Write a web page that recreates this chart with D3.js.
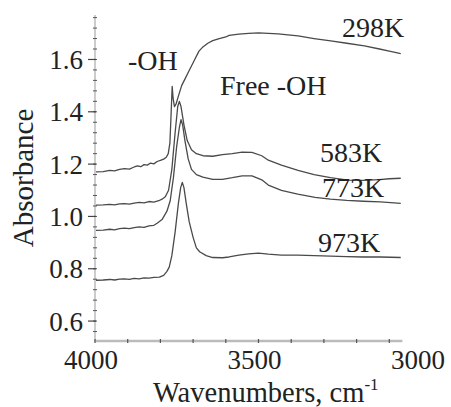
<!DOCTYPE html>
<html><head><meta charset="utf-8">
<script src="https://cdn.jsdelivr.net/npm/d3@7"></script>
<style>
html,body{margin:0;padding:0;background:#fff;}
svg{display:block;}
</style></head>
<body>
<svg id="c" width="451" height="407"></svg>
<script>
// ---- data (wavenumber cm^-1, absorbance) ----
const s298 = [[3997,1.170],[3975,1.171],[3955,1.176],[3940,1.174],[3925,1.180],[3910,1.183],[3895,1.181],[3880,1.189],[3870,1.193],[3860,1.190],[3850,1.198],[3840,1.196],[3830,1.204],[3820,1.201],[3810,1.210],[3800,1.214],[3790,1.219],[3782,1.226],[3776,1.240],[3771,1.280],[3767,1.400],[3764,1.497],[3761,1.450],[3757,1.420],[3752,1.430],[3745,1.460],[3735,1.500],[3725,1.525],[3715,1.550],[3705,1.575],[3695,1.600],[3682,1.632],[3670,1.648],[3655,1.662],[3640,1.672],[3620,1.680],[3600,1.686],[3590,1.692],[3560,1.697],[3530,1.700],[3500,1.702],[3470,1.700],[3440,1.698],[3410,1.694],[3379,1.690],[3330,1.680],[3279,1.671],[3230,1.662],[3176,1.652],[3130,1.640],[3100,1.632],[3065,1.622]];
const s583 = [[3997,1.043],[3975,1.044],[3955,1.046],[3940,1.044],[3925,1.048],[3910,1.049],[3895,1.047],[3880,1.051],[3865,1.054],[3850,1.052],[3835,1.057],[3820,1.055],[3805,1.060],[3795,1.066],[3785,1.075],[3775,1.100],[3765,1.180],[3755,1.320],[3747,1.420],[3742,1.440],[3737,1.420],[3728,1.350],[3718,1.290],[3705,1.255],[3690,1.240],[3670,1.232],[3640,1.230],[3610,1.236],[3580,1.240],[3550,1.246],[3520,1.245],[3490,1.232],[3470,1.215],[3430,1.196],[3379,1.176],[3330,1.160],[3280,1.148],[3227,1.139],[3180,1.138],[3130,1.141],[3100,1.144],[3065,1.146]];
const s773 = [[3997,0.947],[3975,0.948],[3955,0.951],[3940,0.949],[3925,0.953],[3910,0.955],[3895,0.953],[3880,0.957],[3865,0.960],[3850,0.958],[3835,0.964],[3820,0.966],[3810,0.974],[3795,0.988],[3780,1.020],[3770,1.060],[3760,1.150],[3750,1.270],[3742,1.340],[3737,1.370],[3732,1.350],[3725,1.290],[3715,1.220],[3705,1.180],[3690,1.160],[3670,1.150],[3640,1.142],[3610,1.142],[3580,1.148],[3550,1.155],[3520,1.155],[3490,1.140],[3470,1.120],[3430,1.100],[3380,1.085],[3327,1.073],[3280,1.066],[3230,1.061],[3180,1.058],[3127,1.056],[3065,1.050]];
const s973 = [[3997,0.756],[3975,0.757],[3955,0.759],[3940,0.757],[3925,0.760],[3910,0.761],[3895,0.759],[3880,0.763],[3865,0.761],[3850,0.765],[3835,0.764],[3820,0.767],[3803,0.768],[3790,0.775],[3780,0.790],[3773,0.806],[3765,0.850],[3755,0.940],[3745,1.050],[3738,1.110],[3733,1.130],[3728,1.110],[3721,1.050],[3712,0.980],[3700,0.920],[3690,0.880],[3680,0.865],[3660,0.850],[3640,0.843],[3610,0.842],[3590,0.845],[3560,0.852],[3530,0.857],[3500,0.860],[3470,0.856],[3430,0.852],[3380,0.852],[3330,0.850],[3280,0.848],[3230,0.846],[3180,0.845],[3127,0.845],[3065,0.843]];
const series = [s298, s583, s773, s973];
const seriesLabels = ["298K","583K","773K","973K"];
const xTickLabels = [4000, 3500, 3000];
const yTickLabels = [0.6, 0.8, 1.0, 1.2, 1.4, 1.6];
const xTitle = "Wavenumbers, cm";
const xTitleSup = "-1";
const yTitle = "Absorbance";
const notes = ["-OH", "Free -OH"];

const FONT = "'Liberation Serif', 'Tinos', 'Nimbus Roman', 'DejaVu Serif', serif";

// ---- layout ----
const svg = d3.select("#c");
const x = d3.scaleLinear().domain([4000, 3000]).range([95, 422]);
const xEnd = 3060;
const y = d3.scaleLinear().domain([0.52, 1.77]).range([342, 15]);

function txt(sel){ return sel.attr("font-family", FONT).attr("fill", "#222"); }

// y axis
const gy = svg.append("g");
gy.append("line").attr("x1",95).attr("x2",95).attr("y1",y(1.77)).attr("y2",y(0.52)).attr("stroke","#999").attr("stroke-width",1);
const minorY = d3.range(0.56, 1.77, 0.04).map(v=>+v.toFixed(2));
gy.selectAll(".mn").data(minorY).join("line")
  .attr("x1",93).attr("x2",97).attr("y1",d=>y(d)).attr("y2",d=>y(d)).attr("stroke","#555").attr("stroke-width",1);
gy.selectAll(".mj").data(yTickLabels).join("line")
  .attr("x1",88).attr("x2",96).attr("y1",d=>y(d)).attr("y2",d=>y(d)).attr("stroke","#444").attr("stroke-width",1.2);
txt(gy.selectAll("text").data(yTickLabels).join("text"))
  .attr("x",83).attr("y",d=>y(d)).attr("dy","0.35em").attr("text-anchor","end")
  .attr("font-size",27).text(d=>d3.format(".1f")(d));

// x axis
const gx = svg.append("g");
gx.append("line").attr("x1",x(4000)).attr("x2",x(xEnd)).attr("y1",341).attr("y2",341).attr("stroke","#bbb").attr("stroke-width",2.5);
const minorX = d3.range(4000, xEnd, -100);
gx.selectAll(".t").data(minorX).join("line")
  .attr("x1",d=>x(d)).attr("x2",d=>x(d)).attr("y1",339).attr("y2",343).attr("stroke","#555").attr("stroke-width",1.2);
txt(gx.selectAll("text").data(xTickLabels).join("text"))
  .attr("x",d=>x(d)-4).attr("y",369).attr("text-anchor","middle")
  .attr("font-size",27).text(d=>d);

// titles
txt(svg.append("text")).attr("transform","translate(33,178) rotate(-90)").attr("text-anchor","middle")
  .attr("font-size",29).text(yTitle);
const xt = txt(svg.append("text")).attr("x",153).attr("y",402).attr("font-size",28.5);
xt.append("tspan").text(xTitle);
xt.append("tspan").attr("dy",-12).attr("font-size",17).text(xTitleSup);

// lines
const line = d3.line().x(d=>x(d[0])).y(d=>y(d[1])).curve(d3.curveLinear);
svg.append("g").selectAll("path").data(series).join("path")
  .attr("d",line).attr("fill","none").attr("stroke","#4a4a4a").attr("stroke-width",1.3).attr("stroke-linejoin","round");

// labels
const labPos = [[342,37],[320,162],[322,197],[318,252]];
txt(svg.append("g").selectAll("text").data(seriesLabels).join("text"))
  .attr("x",(d,i)=>labPos[i][0]).attr("y",(d,i)=>labPos[i][1]).attr("font-size",28).text(d=>d);
txt(svg.append("text")).attr("x",128).attr("y",70).attr("font-size",28).text(notes[0]);
txt(svg.append("text")).attr("x",220).attr("y",95).attr("font-size",28).text(notes[1]);
</script>
</body></html>
